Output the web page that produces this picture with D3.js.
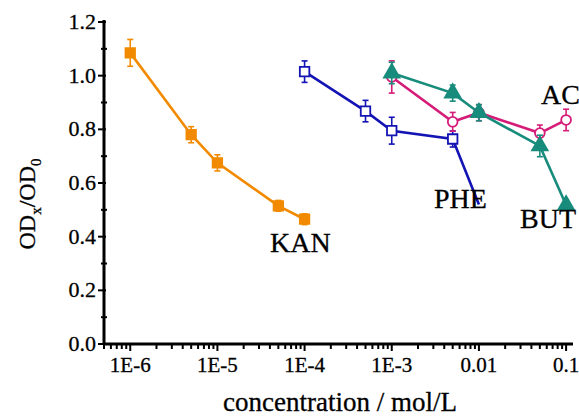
<!DOCTYPE html>
<html>
<head>
<meta charset="utf-8">
<script src="https://cdn.jsdelivr.net/npm/d3@7"></script>
<style>
  body { margin: 0; background: #fff; }
  svg text { font-family: "Liberation Serif", "Times New Roman", Times, "DejaVu Serif", serif; fill: #000; stroke: #000; stroke-width: 0.3; }
</style>
</head>
<body>
<svg id="chart" width="579" height="417"></svg>
<script>
// values
const kanConc = [1e-6, 5e-6, 1e-5, 5e-5, 1e-4];
const kanOD   = [1.085, 0.78, 0.675, 0.515, 0.465];
const kanErr  = [0.05, 0.03, 0.03, 0.02, 0.02];

const pheConc = [1e-4, 5e-4, 1e-3, 5e-3, 1e-2];
const pheOD   = [1.015, 0.868, 0.795, 0.764, 0.52];
const pheErr  = [0.04, 0.04, 0.05, 0.03, 0];

const acConc = [1e-3, 5e-3, 1e-2, 5e-2, 1e-1];
const acOD   = [0.995, 0.828, 0.862, 0.786, 0.835];
const acErr  = [0.06, 0.035, 0.03, 0.03, 0.04];

const butConc = [1e-3, 5e-3, 1e-2, 5e-2, 1e-1];
const butOD   = [1.01, 0.935, 0.862, 0.738, 0.518];
const butErr  = [0.04, 0.03, 0.03, 0.04, 0.02];

const xTickVals = [1e-6, 1e-5, 1e-4, 1e-3, 1e-2, 1e-1];
const xTickLabels = ["1E-6", "1E-5", "1E-4", "1E-3", "0.01", "0.1"];
const yTickVals = [0, 0.2, 0.4, 0.6, 0.8, 1.0, 1.2];

const series = [
  { name: "KAN", color: "#f28a00", shape: "square", fill: true,  conc: kanConc, od: kanOD, err: kanErr, lx: 270, ly: 252 },
  { name: "PHE", color: "#1414b4", shape: "square", fill: false, conc: pheConc, od: pheOD, err: pheErr, lx: 434, ly: 208 },
  { name: "AC",  color: "#d41c78", shape: "circle", fill: false, conc: acConc,  od: acOD,  err: acErr,  lx: 541, ly: 104 },
  { name: "BUT", color: "#188c7c", shape: "triangle", fill: true, conc: butConc, od: butOD, err: butErr, lx: 520, ly: 228 }
];

const svg = d3.select("#chart");
const x0 = 104, x1 = 573, y0 = 344, y1 = 22;

const x = d3.scaleLog().domain([5e-7, 0.12]).range([x0, x1]);
const y = d3.scaleLinear().domain([0, 1.2]).range([y0, y1]);

// minor ticks on log axis
const minorX = [];
for (let e = -7; e <= -1; e++) {
  for (let m = 1; m <= 9; m++) {
    const v = m * Math.pow(10, e);
    if (v >= 5e-7 && v <= 0.12) minorX.push(v);
  }
}

const xAxisG = svg.append("g").attr("transform", `translate(0,${y0})`);
xAxisG.selectAll("line.minor").data(minorX).enter().append("line")
  .attr("x1", d => x(d)).attr("x2", d => x(d))
  .attr("y1", 0).attr("y2", d => xTickVals.includes(d) ? 7 : 5)
  .attr("stroke", "#000").attr("stroke-width", 2);
xAxisG.append("line").attr("x1", x0 - 1).attr("x2", x1).attr("y1", 0).attr("y2", 0)
  .attr("stroke", "#000").attr("stroke-width", 3);
xAxisG.selectAll("text").data(xTickVals).enter().append("text")
  .attr("x", d => x(d)).attr("y", 28)
  .attr("text-anchor", "middle").attr("font-size", 21)
  .text((d, i) => xTickLabels[i]);

// y axis
const yAxisG = svg.append("g").attr("transform", `translate(${x0},0)`);
yAxisG.append("line").attr("x1", 0).attr("x2", 0).attr("y1", y1 - 2).attr("y2", y0 + 1)
  .attr("stroke", "#000").attr("stroke-width", 3);
const yMinor = d3.range(0.1, 1.2, 0.2);
yAxisG.selectAll("line.ymin").data(yMinor).enter().append("line")
  .attr("x1", -3).attr("x2", 3).attr("y1", d => y(d)).attr("y2", d => y(d))
  .attr("stroke", "#000").attr("stroke-width", 2);
yAxisG.selectAll("line.ymaj").data(yTickVals).enter().append("line")
  .attr("x1", -6).attr("x2", 2).attr("y1", d => y(d)).attr("y2", d => y(d))
  .attr("stroke", "#000").attr("stroke-width", 2);
yAxisG.selectAll("text").data(yTickVals).enter().append("text")
  .attr("x", -8).attr("y", d => y(d) + 7)
  .attr("text-anchor", "end").attr("font-size", 22)
  .text(d => d.toFixed(1));

// axis titles
svg.append("text").attr("x", 340).attr("y", 411).attr("text-anchor", "middle")
  .attr("font-size", 27).text("concentration / mol/L");

const yt = svg.append("text").attr("transform", "translate(35,204) rotate(-90)")
  .attr("text-anchor", "middle").attr("font-size", 24);
yt.append("tspan").text("OD");
yt.append("tspan").attr("font-size", 15).attr("dy", 6).text("x");
yt.append("tspan").attr("dy", -6).text("/OD");
yt.append("tspan").attr("font-size", 15).attr("dy", 6).text("0");

// series
const line = d3.line().x(d => x(d.c)).y(d => y(d.v));

series.forEach(s => {
  const pts = s.conc.map((c, i) => ({ c: c, v: s.od[i], e: s.err[i] }));
  const g = svg.append("g");
  g.append("path").datum(pts).attr("d", line)
    .attr("fill", "none").attr("stroke", s.color).attr("stroke-width", 2.6);

  // error bars
  const eb = g.selectAll("g.err").data(pts.filter(d => d.e > 0)).enter().append("g");
  eb.append("line")
    .attr("x1", d => x(d.c)).attr("x2", d => x(d.c))
    .attr("y1", d => y(d.v + d.e)).attr("y2", d => y(d.v - d.e))
    .attr("stroke", s.color).attr("stroke-width", 1.6);
  eb.append("line")
    .attr("x1", d => x(d.c) - 3).attr("x2", d => x(d.c) + 3)
    .attr("y1", d => y(d.v + d.e)).attr("y2", d => y(d.v + d.e))
    .attr("stroke", s.color).attr("stroke-width", 1.6);
  eb.append("line")
    .attr("x1", d => x(d.c) - 3).attr("x2", d => x(d.c) + 3)
    .attr("y1", d => y(d.v - d.e)).attr("y2", d => y(d.v - d.e))
    .attr("stroke", s.color).attr("stroke-width", 1.6);

  // markers
  const symType = s.shape === "square" ? d3.symbolSquare
    : s.shape === "circle" ? d3.symbolCircle : d3.symbolTriangle;
  const size = s.shape === "triangle" ? 105 : s.shape === "circle" ? 75 : 90;
  g.selectAll("path.mk").data(s.name === "PHE" ? pts.slice(0, 4) : pts).enter().append("path")
    .attr("d", d3.symbol().type(symType).size(size))
    .attr("transform", d => `translate(${x(d.c)},${y(d.v)})`)
    .attr("fill", s.fill ? s.color : "#fff")
    .attr("stroke", s.color).attr("stroke-width", 1.8);
});

// series labels
series.forEach(s => {
  svg.append("text").attr("x", s.lx).attr("y", s.ly)
    .attr("font-size", 28).text(s.name);
});
</script>
</body>
</html>
